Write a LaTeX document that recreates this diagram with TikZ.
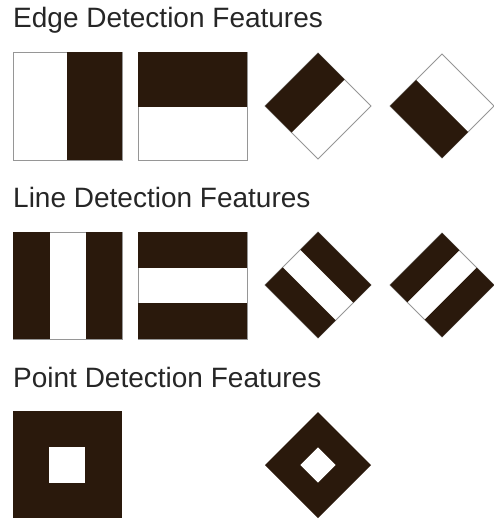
\documentclass[tikz,border=0pt]{standalone}
\usepackage{fontspec}
\setsansfont{Liberation Sans}
\definecolor{featdark}{RGB}{42,25,12}
\definecolor{featline}{RGB}{150,150,150}

\begin{document}
\begin{tikzpicture}[
    x=1pt, y=-1pt,
    title/.style={anchor=base west, inner sep=0pt, text=black!85, font=\sffamily\fontsize{28}{32}\selectfont},
    pane/.style={draw=featline, fill=white, line width=0.8pt},
    dark/.style={fill=featdark}
]
\useasboundingbox (0,0) rectangle (494,519);

% Edge features
\node[title] (edgetitle) at (13,28) {Edge Detection Features};
\draw[pane] (13,52) rectangle (122,160);
\fill[dark] (67,52) rectangle (122,160);
\draw[pane] (138,52) rectangle (247,160);
\fill[dark] (138,52) rectangle (247,107);
\draw[pane] (318,53) -- (371,106) -- (318,159) -- (265,106) -- cycle;
\fill[dark] (318,53) -- (344.5,79.5) -- (291.5,132.5) -- (265,106) -- cycle;
\draw[pane] (442,54) -- (494,106) -- (442,158) -- (390,106) -- cycle;
\fill[dark] (416,80) -- (390,106) -- (442,158) -- (468,132) -- cycle;

% Line features
\node[title] (linetitle) at (13,207) {Line Detection Features};
\draw[pane] (13,232) rectangle (122,339);
\fill[dark] (13,232) rectangle (49.5,339);
\fill[dark] (85.5,232) rectangle (122,339);
\draw[pane] (138,232) rectangle (247,339);
\fill[dark] (138,232) rectangle (247,268);
\fill[dark] (138,303) rectangle (247,339);
\draw[pane] (318,232) -- (371,285) -- (318,338) -- (265,285) -- cycle;
\fill[dark] (318,232) -- (371,285) -- (353.33,302.67) -- (300.33,249.67) -- cycle;
\fill[dark] (282.67,267.33) -- (335.67,320.33) -- (318,338) -- (265,285) -- cycle;
\draw[pane] (442,233) -- (494,285) -- (442,337) -- (390,285) -- cycle;
\fill[dark] (390,285) -- (442,233) -- (459.33,250.33) -- (407.33,302.33) -- cycle;
\fill[dark] (476.67,267.67) -- (494,285) -- (442,337) -- (424.67,319.67) -- cycle;

% Point features
\node[title] (pointtitle) at (13,387) {Point Detection Features};
\fill[dark] (13,411) rectangle (122,518);
\fill[white] (49,447) rectangle (85,483);
\fill[dark] (318,412) -- (371,465) -- (318,518) -- (265,465) -- cycle;
\fill[white] (318,447.3) -- (335.7,465) -- (318,482.7) -- (300.3,465) -- cycle;

\end{tikzpicture}
\end{document}
